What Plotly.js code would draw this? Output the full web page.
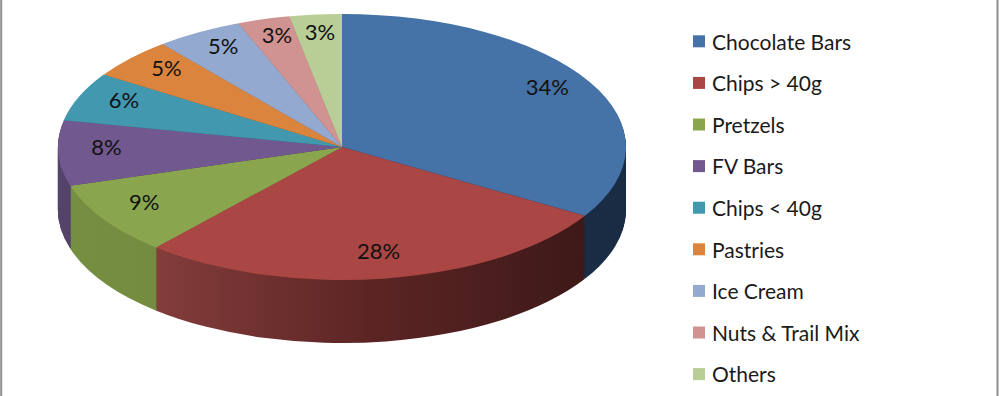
<!DOCTYPE html>
<html><head><meta charset="utf-8">
<script src="https://cdn.plot.ly/plotly-3.0.1.min.js"></script>
<style>html,body{margin:0;padding:0;background:#fff}#chart{width:1000px;height:396px}</style>
</head><body><div id="chart"></div>
<script>
// ---- data ----
const categories = ['Chocolate Bars', 'Chips > 40g', 'Pretzels', 'FV Bars', 'Chips < 40g', 'Pastries', 'Ice Cream', 'Nuts & Trail Mix', 'Others'];
const shares = [34, 28, 9, 8, 6, 5, 5, 3, 3];
const shareLabels = shares.map(v => v + '%');
const topColors = ['#4572A7', '#AA4643', '#89A54E', '#71588F', '#4198AF', '#DB843D', '#93A9CF', '#D19392', '#B9CD96'];
const sideColors = ['#1C3049', '#5C2524', '#718A3E', '#4A3A60', '#2A6373', '#8F5628', '#606E87', '#886060', '#798662'];
const sideLight = ['#1F3553', '#833D3B', '#758E42', '#54436B', '#2E6C7E', '#9A5D2B', '#687792', '#936868', '#83916B'];
const sideDark = ['#1A2C44', '#3D1918', '#6A8339', '#40324F', '#255866', '#7E4B22', '#56637A', '#7A5555', '#6D795A'];

// ---- layout geometry (pixels) ----
const W = 1000, H = 396;
const CX = 342, CY = 147, RY = 133, RX = 284, DEPTH = 63, LAYERS = 63;
const STRETCH = RX / RY;
const LABEL_R = 0.83, LABEL_DY = -6;
function domainAt(offset) {
  return { x: [(CX - RY) / W, (CX + RY) / W], y: [1 - (CY + RY + offset) / H, 1 - (CY - RY + offset) / H] };
}

const traces = [];
for (let k = LAYERS; k >= 1; k--) {
  traces.push({
    type: 'pie', labels: categories, values: shares, sort: false, direction: 'clockwise', rotation: 0,
    domain: domainAt(k * DEPTH / LAYERS), marker: { colors: sideColors, line: { width: 0 } },
    textinfo: 'none', hoverinfo: 'none', showlegend: false
  });
}
traces.push({
  type: 'pie', labels: categories, values: shares, text: shareLabels, textinfo: 'text',
  textposition: 'inside', insidetextorientation: 'horizontal',
  sort: false, direction: 'clockwise', rotation: 0, domain: domainAt(0),
  marker: { colors: topColors, line: { width: 0 } },
  textfont: { family: 'Lato, sans-serif', size: 22, color: '#111' },
  hoverinfo: 'none', showlegend: true
});

const layout = {
  width: W, height: H, margin: { l: 0, r: 0, t: 0, b: 0 },
  paper_bgcolor: '#fff', plot_bgcolor: '#fff', hovermode: false,
  uniformtext: { mode: 'show', minsize: 22 },
  legend: {
    x: 0.672, xanchor: 'left', y: 0.97, yanchor: 'top', traceorder: 'normal',
    font: { family: 'Lato, sans-serif', size: 21, color: '#1a1a1a' }, bgcolor: 'rgba(0,0,0,0)'
  },
  shapes: [
    { type: 'line', xref: 'paper', yref: 'paper', x0: 0.0012, x1: 0.0012, y0: 0, y1: 1, line: { color: '#8e8e8e', width: 2 } },
    { type: 'line', xref: 'paper', yref: 'paper', x0: 0.9975, x1: 0.9975, y0: 0, y1: 1, line: { color: '#8e8e8e', width: 2 } }
  ]
};

const gd = document.getElementById('chart');

function fixTextAspect() {
  gd.querySelectorAll('.pielayer .slicetext text').forEach(t => {
    const m = t.getScreenCTM();
    if (!m) return;
    const sx = Math.hypot(m.a, m.b), sy = Math.hypot(m.c, m.d);
    if (!sx || Math.abs(sx / sy - 1) < 0.01) return;
    const bb = t.getBBox();
    const bx = bb.x + bb.width / 2;
    const tr = t.getAttribute('transform') || '';
    t.setAttribute('transform', `${tr} translate(${bx},0) scale(${sy / sx},1) translate(${-bx},0)`);
  });
}

function placeLabels() {
  const groups = gd.querySelectorAll('.pielayer .trace');
  const topGroup = groups[groups.length - 1];
  const cd = gd.calcdata[gd.calcdata.length - 1];
  const cx = cd[0].cx, cy = cd[0].cy;
  const slices = topGroup.querySelectorAll('g.slice');
  slices.forEach((s, i) => {
    const st = s.querySelector('g.slicetext');
    const pt = cd[i];
    if (!st || !pt || !pt.pxmid) return;
    const r = st.getBoundingClientRect();
    const curX = r.left + r.width / 2, curY = r.top + r.height / 2;
    const tgtX = cx + STRETCH * LABEL_R * pt.pxmid[0];
    const tgtY = cy + LABEL_R * pt.pxmid[1] + LABEL_DY;
    st.setAttribute('transform', `translate(${(tgtX - curX) / STRETCH},${tgtY - curY})`);
  });
}

function shadeSides() {
  const svg = gd.querySelector('svg.main-svg');
  let defs = svg.querySelector('defs');
  if (!defs) { defs = document.createElementNS('http://www.w3.org/2000/svg', 'defs'); svg.insertBefore(defs, svg.firstChild); }
  categories.forEach((c, i) => {
    const lg = document.createElementNS('http://www.w3.org/2000/svg', 'linearGradient');
    lg.setAttribute('id', 'sideGrad' + i);
    lg.setAttribute('x1', '0'); lg.setAttribute('x2', '1'); lg.setAttribute('y1', '0'); lg.setAttribute('y2', '0');
    [[0, sideLight[i]], [0.5, sideColors[i]], [1, sideDark[i]]].forEach(([o, col]) => {
      const s = document.createElementNS('http://www.w3.org/2000/svg', 'stop');
      s.setAttribute('offset', o); s.setAttribute('stop-color', col);
      lg.appendChild(s);
    });
    defs.appendChild(lg);
  });
  const groups = gd.querySelectorAll('.pielayer .trace');
  groups.forEach((g, gi) => {
    if (gi === groups.length - 1) return;
    g.querySelectorAll('g.slice').forEach((s, i) => {
      const p = s.querySelector('path.surface');
      if (p) p.style.fill = `url(#sideGrad${i})`;
    });
  });
}

Plotly.newPlot(gd, traces, layout, { displayModeBar: false, staticPlot: true }).then(() => {
  // stretch the circular pies into the ellipse of a tilted pie
  gd.querySelectorAll('.pielayer .trace').forEach(g => {
    g.setAttribute('transform', `translate(${CX},0) scale(${STRETCH},1) translate(${-CX},0)`);
  });
  fixTextAspect();
  placeLabels();
  shadeSides();
  // legend spacing like the original
  const sb = gd.querySelector('.legend .scrollbox');
  if (sb) sb.removeAttribute('clip-path');
  const legendEl = gd.querySelector('.legend');
  if (legendEl) legendEl.removeAttribute('clip-path');
  const items = gd.querySelectorAll('.legend .traces');
  const gap = 41.6, firstCenter = 41, textLeft = 712;
  items.forEach((it, i) => {
    const m = /translate\(([-\d.]+),\s*([-\d.]+)\)/.exec(it.getAttribute('transform') || '');
    const x = m ? +m[1] : 0;
    it.setAttribute('transform', `translate(${x},${i * gap})`);
  });
  if (items.length) {
    const tb = items[0].querySelector('.legendtext').getBoundingClientRect();
    const dy = firstCenter - (tb.top + tb.height / 2);
    const dx = textLeft - tb.left;
    items.forEach((it) => {
      const m = /translate\(([-\d.]+),\s*([-\d.]+)\)/.exec(it.getAttribute('transform'));
      it.setAttribute('transform', `translate(${+m[1] + dx},${+m[2] + dy})`);
      const pts = it.querySelector('.legendpoints');
      if (pts) pts.setAttribute('transform', 'translate(7,0)');
    });
  }
});
</script>
</body></html>
